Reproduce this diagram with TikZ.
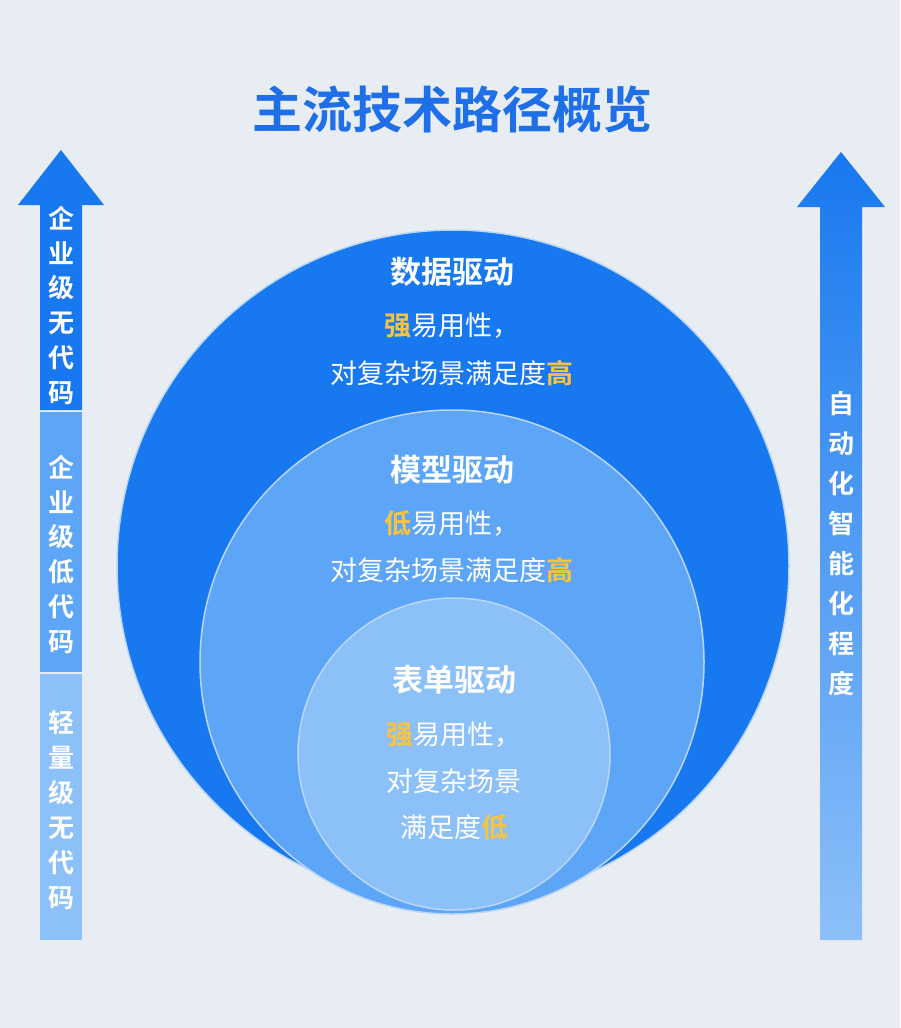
\documentclass[tikz,border=0pt]{standalone}
\usepackage{fontspec}
\newfontfamily\cjk{Noto Sans CJK SC}[BoldFont={* Bold}]
\usetikzlibrary{calc}
\definecolor{bgc}{HTML}{E8EDF3}
\definecolor{titleblue}{HTML}{1E6FE8}
\definecolor{deepblue}{HTML}{1878F0}
\definecolor{midblue}{HTML}{5DA5F6}
\definecolor{lightblue}{HTML}{8CC0F8}
\definecolor{hilite}{HTML}{F6C342}
\tikzset{
  ctext/.style={text=white,font=\cjk\fontsize{27}{30}\selectfont},
  chead/.style={text=white,font=\cjk\bfseries\fontsize{31}{34}\selectfont},
  vtext/.style={text=white,font=\cjk\bfseries\fontsize{26}{28}\selectfont},
  ring/.style={draw=white!70!deepblue,line width=1.5pt}
}
\newcommand{\hl}[1]{\textcolor{hilite}{\bfseries #1}}
\begin{document}
\begin{tikzpicture}[x=1pt,y=-1pt]
\fill[bgc] (0,0) rectangle (900,1028);
\useasboundingbox (0,0) rectangle (900,1028);

% dotted background
\foreach \x in {10,30,...,890}
\foreach \y in {10,30,...,1020}
\fill[white!70!bgc] (\x,\y) circle (1.1);

% title
\node[text=titleblue,font=\cjk\bfseries\fontsize{50}{54}\selectfont] (title) at (452,110) {主流技术路径概览};

% left arrow, three parts
\fill[deepblue] (61,150) -- (104,205) -- (82,205) -- (82,410) -- (40,410) -- (40,205) -- (18,205) -- cycle;
\fill[midblue] (40,412) rectangle (82,672);
\fill[lightblue] (40,674) rectangle (82,940);

% right arrow
\shade[top color=deepblue,bottom color=lightblue] (841,152) -- (885,207) -- (862,207) -- (862,940) -- (820,940) -- (820,207) -- (797,207) -- cycle;

% circles
\fill[deepblue] (453,566) circle (336);
\draw[ring] (453,566) circle (336);
\fill[midblue] (452,662) circle (252);
\draw[ring] (452,662) circle (252);
\fill[lightblue] (454,754) circle (156);
\draw[ring] (454,754) circle (156);

% big circle texts
\node[chead] (bigtitle) at (452,272) {数据驱动};
\node[ctext] (bigline1) at (452,326) {\hl{强}易用性，};
\node[ctext] (bigline2) at (452,373) {对复杂场景满足度\hl{高}};

% middle circle texts
\node[chead] (midtitle) at (452,470) {模型驱动};
\node[ctext] (midline1) at (452,523) {\hl{低}易用性，};
\node[ctext] (midline2) at (452,570) {对复杂场景满足度\hl{高}};

% small circle texts
\node[chead] (smalltitle) at (454,680) {表单驱动};
\node[ctext] (smallline1) at (454,735) {\hl{强}易用性，};
\node[ctext] (smallline2) at (454,781) {对复杂场景};
\node[ctext] (smallline3) at (454,827) {满足度\hl{低}};

% vertical labels
\foreach \c [count=\i] in {企,业,级,无,代,码}
  \node[vtext] (la\i) at (61,183+\i*35) {\c};
\foreach \c [count=\i] in {企,业,级,低,代,码}
  \node[vtext] (lb\i) at (61,432+\i*35) {\c};
\foreach \c [count=\i] in {轻,量,级,无,代,码}
  \node[vtext] (lc\i) at (61,688+\i*35) {\c};
\foreach \c [count=\i] in {自,动,化,智,能,化,程,度}
  \node[vtext] (r\i) at (841,364+\i*40) {\c};
\end{tikzpicture}
\end{document}
